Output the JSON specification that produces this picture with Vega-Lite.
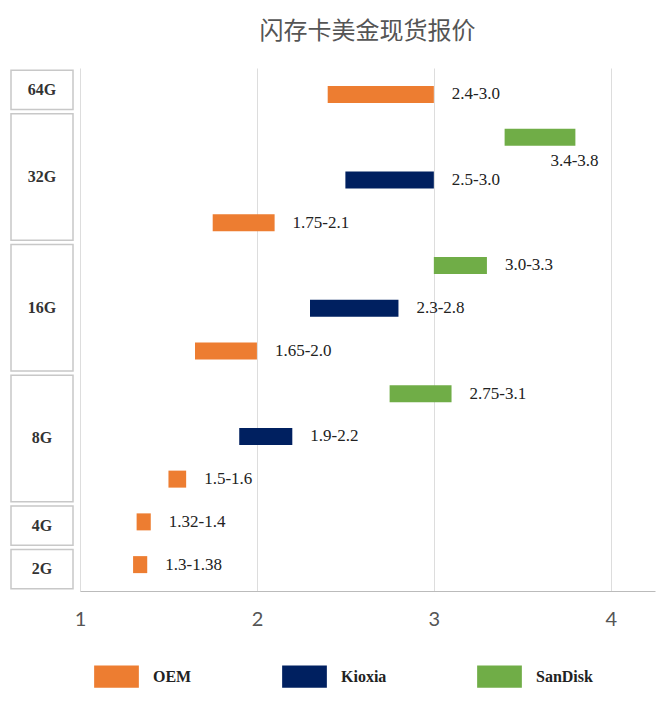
{
  "$schema": "https://vega.github.io/schema/vega-lite/v6.json",
  "background": "white",
  "padding": {"left": 10, "top": 20, "right": 1, "bottom": 5},
  "config": {"view": {"stroke": null}, "concat": {"spacing": 0}},
  "datasets": {
    "bars": [
      {"row": 0, "brand": "OEM", "lo": 2.4, "hi": 3.0, "label": "2.4-3.0"},
      {"row": 1, "brand": "SanDisk", "lo": 3.4, "hi": 3.8, "label": "3.4-3.8"},
      {"row": 2, "brand": "Kioxia", "lo": 2.5, "hi": 3.0, "label": "2.5-3.0"},
      {"row": 3, "brand": "OEM", "lo": 1.75, "hi": 2.1, "label": "1.75-2.1"},
      {"row": 4, "brand": "SanDisk", "lo": 3.0, "hi": 3.3, "label": "3.0-3.3"},
      {"row": 5, "brand": "Kioxia", "lo": 2.3, "hi": 2.8, "label": "2.3-2.8"},
      {"row": 6, "brand": "OEM", "lo": 1.65, "hi": 2.0, "label": "1.65-2.0"},
      {"row": 7, "brand": "SanDisk", "lo": 2.75, "hi": 3.1, "label": "2.75-3.1"},
      {"row": 8, "brand": "Kioxia", "lo": 1.9, "hi": 2.2, "label": "1.9-2.2"},
      {"row": 9, "brand": "OEM", "lo": 1.5, "hi": 1.6, "label": "1.5-1.6"},
      {"row": 10, "brand": "OEM", "lo": 1.32, "hi": 1.4, "label": "1.32-1.4"},
      {"row": 11, "brand": "OEM", "lo": 1.3, "hi": 1.38, "label": "1.3-1.38"}
    ],
    "groups": [
      {"name": "64G", "start": 0, "end": 0},
      {"name": "32G", "start": 1, "end": 3},
      {"name": "16G", "start": 4, "end": 6},
      {"name": "8G", "start": 7, "end": 9},
      {"name": "4G", "start": 10, "end": 10},
      {"name": "2G", "start": 11, "end": 11}
    ]
  },
  "hconcat": [
    {
      "width": 62,
      "height": 523,
      "data": {"name": "groups"},
      "transform": [
        {"calculate": "datum.start - 0.45", "as": "top"},
        {"calculate": "datum.end + 0.45", "as": "bottom"},
        {"calculate": "(datum.start + datum.end) / 2", "as": "mid"}
      ],
      "layer": [
        {
          "mark": {"type": "rect", "fill": "white", "stroke": "#c8c8c8", "strokeWidth": 1.5},
          "encoding": {
            "x": {"datum": 0, "type": "quantitative", "scale": {"domain": [0, 1]}, "axis": null},
            "x2": {"datum": 1},
            "y": {"field": "top", "type": "quantitative", "scale": {"domain": [-0.5, 11.5], "reverse": true, "nice": false, "zero": false}, "axis": null},
            "y2": {"field": "bottom"}
          }
        },
        {
          "mark": {"type": "text", "font": "Liberation Serif", "fontWeight": "bold", "fontSize": 16, "color": "#333"},
          "encoding": {
            "x": {"datum": 0.5, "type": "quantitative"},
            "y": {"field": "mid", "type": "quantitative"},
            "text": {"field": "name"}
          }
        }
      ]
    },
    {
      "width": 575,
      "height": 523,
      "title": {"text": "闪存卡美金现货报价", "font": "Noto Sans CJK SC", "fontSize": 24, "fontWeight": "normal", "color": "#555", "offset": 24},
      "data": {"name": "bars"},
      "layer": [
        {
          "mark": {"type": "bar", "height": 17},
          "encoding": {
            "x": {"field": "lo", "type": "quantitative", "scale": {"domain": [1, 4.25], "nice": false, "zero": false},
              "axis": {"values": [1, 2, 3, 4], "format": "d", "title": null, "labelFontSize": 20, "labelColor": "#555", "labelFont": "Lato", "ticks": false, "labelPadding": 18, "gridColor": "#dddddd", "domainColor": "#bbbbbb", "labelFlush": false}},
            "x2": {"field": "hi"},
            "y": {"field": "row", "type": "quantitative", "scale": {"domain": [-0.5, 11.5], "reverse": true, "nice": false, "zero": false}, "axis": null},
            "color": {"field": "brand", "type": "nominal", "sort": ["OEM", "Kioxia", "SanDisk"],
              "scale": {"domain": ["OEM", "Kioxia", "SanDisk"], "range": ["#ED7D31", "#002060", "#70AD47"]},
              "legend": {"orient": "none", "legendX": 83, "legendY": 586, "direction": "horizontal", "title": null, "symbolType": "M-1,-0.5H1V0.5H-1Z", "symbolSize": 2000, "symbolStrokeWidth": 0, "labelFont": "Liberation Serif", "labelFontWeight": "bold", "labelFontSize": 16, "labelColor": "#222", "columnPadding": 90, "labelOffset": 14, "symbolOpacity": 1}}
          }
        },
        {
          "transform": [{"filter": "datum.row != 1"}],
          "mark": {"type": "text", "align": "left", "dx": 18, "font": "Liberation Serif", "fontSize": 17, "color": "#222"},
          "encoding": {
            "x": {"field": "hi", "type": "quantitative"},
            "y": {"field": "row", "type": "quantitative"},
            "text": {"field": "label"}
          }
        },
        {
          "transform": [{"filter": "datum.row == 1"}],
          "mark": {"type": "text", "align": "left", "dx": -25, "dy": 24, "font": "Liberation Serif", "fontSize": 17, "color": "#222"},
          "encoding": {
            "x": {"field": "hi", "type": "quantitative"},
            "y": {"field": "row", "type": "quantitative"},
            "text": {"field": "label"}
          }
        }
      ]
    }
  ]
}
